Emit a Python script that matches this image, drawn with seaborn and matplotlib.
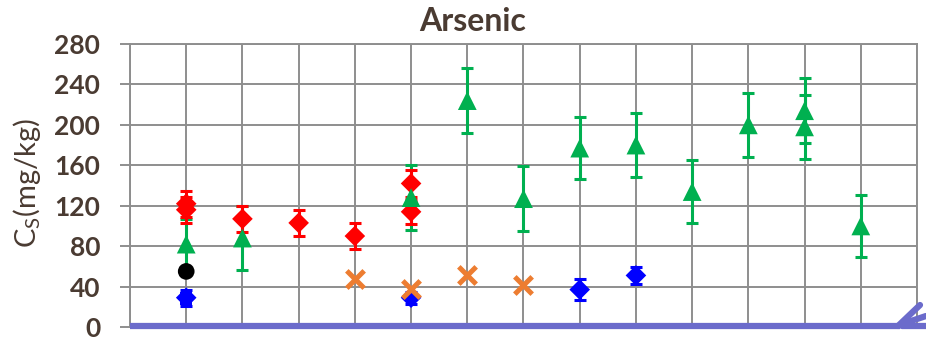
import numpy as np
import pandas as pd
import matplotlib
matplotlib.use("Agg")
import matplotlib.pyplot as plt
from matplotlib.lines import Line2D
import seaborn as sns

# Arsenic concentration in soil, C_S (mg/kg), by sampling site (1..13)
green_x = [1, 2, 5, 6, 7, 8, 9, 10, 11, 12, 12, 13]
green_cs = [82, 88, 128, 224, 127, 177, 180, 134, 200, 214, 198, 100]
green_err = [25, 32, 32, 32, 32, 31, 32, 31, 32, 32, 32, 31]

red_x = [1, 1, 2, 3, 4, 5, 5]
red_cs = [122, 116, 107, 103, 90, 142, 114]
red_err = [13, 13, 13, 13, 13, 13, 12]

orange_x = [4, 5, 6, 7]
orange_cs = [47, 38, 51, 42]

blue_x = [1, 5, 8, 9]
blue_cs = [29, 29, 37, 51]
blue_err = [8, 6, 10, 8]

blue_sq_x = [1]
blue_sq_cs = [28]

black_x = [1]
black_cs = [55]

y_ticks = [0, 40, 80, 120, 160, 200, 240, 280]
title = "Arsenic"

sns.set_theme(style="white")
plt.rcParams["font.family"] = ["Lato", "DejaVu Sans"]
plt.rcParams["mathtext.fontset"] = "custom"
plt.rcParams["mathtext.rm"] = "Lato"
plt.rcParams["mathtext.it"] = "Lato"

BROWN = "#4A3B32"
GRID = "#8E8E8E"
AXIS_BLUE = "#6B6BCB"
GREEN = "#00B050"
RED = "#FF0000"
ORANGE = "#ED7D31"
BLUE = "#0000FF"

W, H = 926, 340
fig = plt.figure(figsize=(W / 100, H / 100), dpi=100)
ax = fig.add_axes([130 / W, 1 - 327 / H, (917 - 130) / W, (327 - 44) / H])

def px(x, y):
    return (x / W, 1 - y / H)

# error bars
eb = dict(fmt="none", elinewidth=2.2, capsize=4.4, capthick=2.2)
ax.errorbar(green_x, green_cs, yerr=green_err, ecolor=GREEN, zorder=2, **eb)
ax.errorbar(red_x, red_cs, yerr=red_err, ecolor=RED, zorder=3, **eb)
ax.errorbar(blue_x, blue_cs, yerr=blue_err, ecolor=BLUE, zorder=3, **eb)

# markers
sns.scatterplot(x=red_x, y=red_cs, marker="D", s=10.5 ** 2, color=RED,
                edgecolor="none", linewidth=0, ax=ax, zorder=4)
sns.scatterplot(x=green_x, y=green_cs, marker="^", s=13.5 ** 2, color=GREEN,
                edgecolor="none", linewidth=0, ax=ax, zorder=5)
sns.scatterplot(x=blue_sq_x, y=blue_sq_cs, marker="s", s=9 ** 2, color=BLUE,
                edgecolor="none", linewidth=0, ax=ax, zorder=4)
sns.scatterplot(x=blue_x, y=blue_cs, marker="D", s=10.5 ** 2, color=BLUE,
                edgecolor="none", linewidth=0, ax=ax, zorder=4)
sns.scatterplot(x=orange_x, y=orange_cs, marker="x", s=12.5 ** 2, color=ORANGE,
                linewidth=3.6, ax=ax, zorder=6)
sns.scatterplot(x=black_x, y=black_cs, marker="o", s=12 ** 2, color="black",
                edgecolor="none", linewidth=0, ax=ax, zorder=6)

ax.set_xlim(0, 14)
ax.set_ylim(0, 280)
ax.set_xticks(range(0, 15))
ax.set_xticklabels([])
ax.set_yticks(y_ticks)
ax.set_yticklabels([str(t) for t in y_ticks], fontsize=19, fontweight="bold",
                   color=BROWN)
ax.tick_params(axis="x", length=0)
ax.tick_params(axis="y", length=7.5, width=1.4, color=GRID, pad=14, left=True)
ax.grid(True, color=GRID, linewidth=1.4)
ax.set_axisbelow(True)
for side in ["left", "top", "right"]:
    ax.spines[side].set_color(GRID)
    ax.spines[side].set_linewidth(1.4)
ax.spines["bottom"].set_visible(False)
ax.set_xlabel("")
ax.set_ylabel("")

# thick horizontal axis line with its end flourish
fig.add_artist(Line2D([px(130, 326)[0], px(900, 326)[0]],
                      [px(130, 326)[1], px(900, 326)[1]],
                      color=AXIS_BLUE, linewidth=4.5, solid_capstyle="butt", zorder=7))
for (x0, y0, x1, y1) in [(898, 326, 920, 305), (902, 324, 926, 316), (902, 326, 926, 326)]:
    a, b = px(x0, y0), px(x1, y1)
    fig.add_artist(Line2D([a[0], b[0]], [a[1], b[1]], color=AXIS_BLUE,
                          linewidth=4.5, solid_capstyle="round", zorder=7))

fig.text(473 / W, 1 - 31 / H, title, ha="center", va="baseline",
         fontsize=23, fontweight="bold", color=BROWN)
fig.text(27 / W, 1 - 183 / H, r"C$_{\mathrm{S}}$(mg/kg)", rotation=90,
         ha="center", va="center", fontsize=21, color=BROWN)

fig.savefig("out.png", dpi=100)
